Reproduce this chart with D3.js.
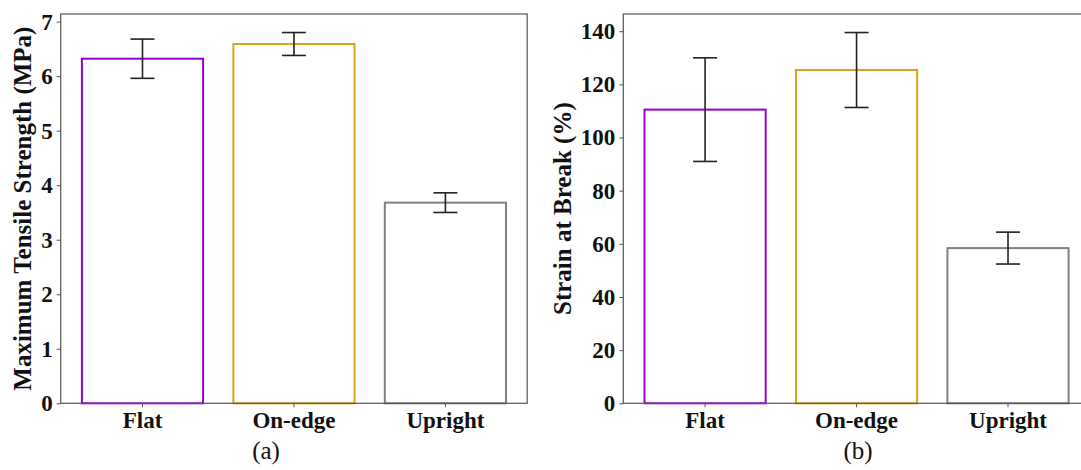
<!DOCTYPE html>
<html>
<head>
<meta charset="utf-8">
<script src="https://cdn.jsdelivr.net/npm/d3@7"></script>
<style>
  body { margin: 0; background: #fff; }
  svg { display: block; font-family: "Liberation Serif", "Times New Roman", serif; }
  .tick text { font-weight: bold; fill: #111; }
</style>
</head>
<body>
<svg id="canvas" width="1081" height="470"></svg>
<script>
// data
var categories = ["Flat", "On-edge", "Upright"];
var barColors = ["#9400d3", "#daa520", "#808080"];

var strengthMean = [6.32, 6.59, 3.68];
var strengthErr = [0.36, 0.21, 0.18];
var strengthTicks = [0, 1, 2, 3, 4, 5, 6, 7];

var strainMean = [110.5, 125.4, 58.4];
var strainErr = [19.5, 14.1, 6.0];
var strainTicks = [0, 20, 40, 60, 80, 100, 120, 140];

var svg = d3.select("#canvas");

var panels = [
  { left: 60.7, label: "Maximum Tensile Strength (MPa)", labelX: 31, caption: "(a)", captionX: 266,
    mean: strengthMean, err: strengthErr, ticks: strengthTicks },
  { left: 623.3, label: "Strain at Break (%)", labelX: 571, caption: "(b)", captionX: 858,
    mean: strainMean, err: strainErr, ticks: strainTicks }
];

var plotW = 466.5, plotTop = 14, plotBottom = 403.3;
var serif = '"Liberation Serif", "Times New Roman", serif';

/**
 * draws one bar panel with error bars, like a matplotlib subplot
 */
function drawPanel(p) {
  var g = svg.append("g");

  var x = d3.scaleBand()
    .domain(categories)
    .range([p.left, p.left + plotW])
    .paddingInner(0.2)
    .paddingOuter(0.14);

  // matplotlib style 5% margin above the tallest error bar
  var ymax = d3.max(p.mean.map(function(m, i){ return m + p.err[i]; })) * 1.05;
  var y = d3.scaleLinear().domain([0, ymax]).range([plotBottom, plotTop]);

  var bars = categories.map(function(c, i){
    return { cat: c, mean: p.mean[i], err: p.err[i], color: barColors[i] };
  });

  g.selectAll("rect.bar")
    .data(bars)
    .enter().append("rect")
    .attr("class", "bar")
    .attr("x", function(d){ return x(d.cat); })
    .attr("y", function(d){ return y(d.mean); })
    .attr("width", x.bandwidth())
    .attr("height", function(d){ return y(0) - y(d.mean); })
    .attr("fill", "none")
    .attr("stroke", function(d){ return d.color; })
    .attr("stroke-width", 2);

  // error bars
  var cap = 12;
  var eb = g.selectAll("g.err")
    .data(bars)
    .enter().append("g")
    .attr("class", "err")
    .attr("stroke", "#222")
    .attr("stroke-width", 1.6);
  eb.append("line")
    .attr("x1", function(d){ return x(d.cat) + x.bandwidth() / 2; })
    .attr("x2", function(d){ return x(d.cat) + x.bandwidth() / 2; })
    .attr("y1", function(d){ return y(d.mean - d.err); })
    .attr("y2", function(d){ return y(d.mean + d.err); });
  [1, -1].forEach(function(s){
    eb.append("line")
      .attr("x1", function(d){ return x(d.cat) + x.bandwidth() / 2 - cap; })
      .attr("x2", function(d){ return x(d.cat) + x.bandwidth() / 2 + cap; })
      .attr("y1", function(d){ return y(d.mean + s * d.err); })
      .attr("y2", function(d){ return y(d.mean + s * d.err); });
  });

  // axes
  var xAxis = g.append("g")
    .attr("transform", "translate(0," + plotBottom + ")")
    .call(d3.axisBottom(x).tickSize(4).tickPadding(4).tickSizeOuter(0))
    .attr("font-family", serif);
  xAxis.select(".domain").remove();
  xAxis.selectAll(".tick line").attr("stroke", "#555");
  xAxis.selectAll(".tick text").attr("font-size", "23px").attr("dy", "0.71em");

  var yAxis = g.append("g")
    .attr("transform", "translate(" + p.left + ",0)")
    .call(d3.axisLeft(y).tickValues(p.ticks).tickFormat(d3.format("d")).tickSize(4).tickPadding(4))
    .attr("font-family", serif);
  yAxis.select(".domain").remove();
  yAxis.selectAll(".tick line").attr("stroke", "#555");
  yAxis.selectAll(".tick text").attr("font-size", "23px");

  // frame
  g.append("rect")
    .attr("x", p.left)
    .attr("y", plotTop)
    .attr("width", plotW)
    .attr("height", plotBottom - plotTop)
    .attr("fill", "none")
    .attr("stroke", "#555")
    .attr("stroke-width", 1.2);

  g.append("text")
    .attr("transform", "translate(" + p.labelX + "," + ((plotTop + plotBottom) / 2) + ") rotate(-90)")
    .attr("text-anchor", "middle")
    .attr("font-size", "25px")
    .attr("font-weight", "bold")
    .attr("fill", "#111")
    .text(p.label);

  g.append("text")
    .attr("x", p.captionX)
    .attr("y", 459)
    .attr("text-anchor", "middle")
    .attr("font-size", "25px")
    .attr("fill", "#111")
    .text(p.caption);
}

panels.forEach(drawPanel);
</script>
</body>
</html>
